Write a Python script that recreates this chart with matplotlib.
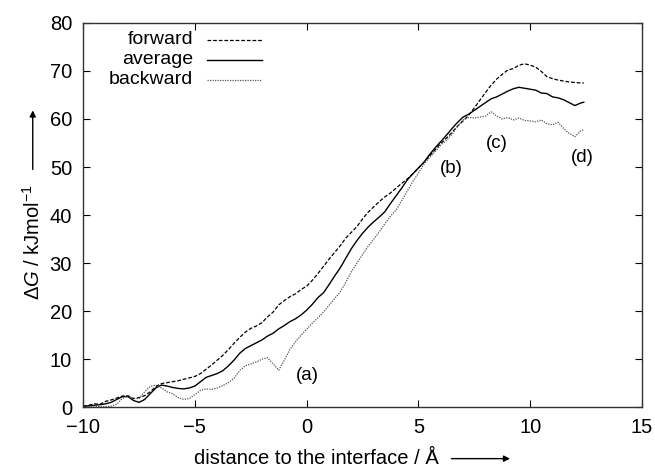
import matplotlib
matplotlib.use("Agg")
import matplotlib.pyplot as plt
from matplotlib.lines import Line2D
from matplotlib.patches import FancyArrowPatch

plt.rcParams["font.family"] = ["Liberation Sans", "DejaVu Sans"]
plt.rcParams["font.size"] = 14.5
plt.rcParams["mathtext.fontset"] = "custom"
plt.rcParams["mathtext.rm"] = "Liberation Sans"
plt.rcParams["mathtext.it"] = "Liberation Sans:italic"

# distance to the interface (Angstrom)
distance = [
    -10.0, -9.75, -9.5, -9.25, -9.0, -8.75, -8.5, -8.25, -8.0, -7.75,
    -7.5, -7.25, -7.0, -6.75, -6.5, -6.25, -6.0, -5.75, -5.5, -5.25,
    -5.0, -4.75, -4.5, -4.25, -4.0, -3.75, -3.5, -3.25, -3.0, -2.75,
    -2.5, -2.25, -2.0, -1.75, -1.5, -1.25, -1.0, -0.75, -0.5, -0.25,
    0.0, 0.25, 0.5, 0.75, 1.0, 1.25, 1.5, 1.75, 2.0, 2.25,
    2.5, 2.75, 3.0, 3.25, 3.5, 3.75, 4.0, 4.25, 4.5, 4.75,
    5.0, 5.25, 5.5, 5.75, 6.0, 6.25, 6.5, 6.75, 7.0, 7.25,
    7.5, 7.75, 8.0, 8.25, 8.5, 8.75, 9.0, 9.25, 9.5, 9.75,
    10.0, 10.25, 10.5, 10.75, 11.0, 11.25, 11.5, 11.75, 12.0, 12.25,
    12.4,
]

forward = [
    0.2, 0.4, 0.7, 0.6, 1.2, 1.5, 1.9, 2.3, 2.4, 1.8,
    2.0, 2.4, 3.2, 4.3, 4.9, 5.1, 5.3, 5.5, 5.8, 6.1,
    6.4, 7.0, 7.9, 8.8, 9.8, 10.8, 12.0, 13.3, 14.5, 15.6,
    16.4, 16.9, 17.6, 18.8, 19.8, 21.3, 22.2, 23.0, 23.6, 24.5,
    25.2, 26.4, 27.8, 29.3, 30.8, 32.2, 33.6, 35.2, 36.4, 37.6,
    39.2, 40.6, 41.7, 42.8, 43.8, 44.6, 45.6, 46.6, 47.5, 48.6,
    49.8, 51.0, 52.3, 53.6, 54.9, 56.0, 57.2, 58.5, 59.6, 60.8,
    62.3, 63.9, 65.5, 67.0, 68.3, 69.3, 70.2, 70.5, 71.2, 71.5,
    71.2, 70.8, 69.9, 68.8, 68.4, 68.1, 67.9, 67.7, 67.6, 67.5,
    67.5,
]

average = [
    0.1, 0.3, 0.4, 0.5, 0.7, 1.0, 1.6, 2.2, 2.2, 1.4,
    1.0, 1.6, 2.8, 4.0, 4.6, 4.4, 4.1, 3.9, 3.8, 4.0,
    4.4, 5.3, 6.2, 6.6, 7.0, 7.6, 8.6, 9.8, 11.2, 12.2,
    12.8, 13.4, 14.0, 14.8, 15.4, 16.3, 17.0, 17.8, 18.4, 19.2,
    20.2, 21.4, 22.8, 23.8, 25.5, 27.3, 29.0, 31.0, 33.0, 34.7,
    36.2, 37.5, 38.6, 39.6, 40.7, 42.4, 44.0, 45.6, 47.3, 48.6,
    49.8, 51.0, 52.6, 54.0, 55.3, 56.6, 58.0, 59.3, 60.4, 61.0,
    61.8, 62.6, 63.4, 64.2, 64.6, 65.2, 65.8, 66.3, 66.6, 66.4,
    66.2, 66.0, 65.4, 65.3, 64.6, 64.4, 64.0, 63.4, 62.8, 63.3,
    63.5,
]

backward = [
    0.0, 0.1, 0.2, 0.1, 0.1, 0.2, 0.6, 1.8, 2.4, 1.8,
    1.8, 3.2, 4.3, 4.6, 4.0, 3.2, 2.8, 2.0, 1.6, 1.8,
    2.6, 3.5, 3.8, 3.7, 4.0, 4.5, 5.1, 6.0, 7.6, 8.6,
    9.0, 9.4, 10.0, 10.3, 9.0, 7.7, 9.8, 12.0, 13.6, 15.0,
    16.2, 17.5, 18.6, 19.8, 21.2, 22.6, 24.0, 26.0, 28.2, 30.0,
    31.8, 33.5, 35.0, 36.5, 38.2, 39.8, 41.0, 43.0, 45.0, 47.0,
    48.7, 50.6, 52.0, 53.2, 54.6, 55.5, 56.8, 58.5, 59.8, 60.3,
    60.2, 60.4, 60.6, 61.5, 60.6, 60.0, 60.3, 59.8, 60.2, 59.7,
    59.6, 59.4, 59.8, 59.0, 58.8, 59.3, 58.0, 57.0, 56.3, 57.5,
    57.8,
]

series = [
    ("forward", forward, dict(color="black", linestyle=(0, (3, 1.5)), linewidth=0.9)),
    ("average", average, dict(color="black", linestyle="-", linewidth=1.0)),
    ("backward", backward, dict(color="#555555", linestyle=(0, (1, 1)), linewidth=0.9)),
]

labels = [("(a)", 0.05, 6.6), ("(b)", 6.45, 49.7), ("(c)", 8.5, 55.0), ("(d)", 12.35, 52.0)]

fig = plt.figure(figsize=(6.55, 4.68), dpi=100)
ax = fig.add_axes([0.127, 0.130, 0.853, 0.821])

for name, vals, style in series:
    ax.plot(distance, vals, **style)

for txt, lx, ly in labels:
    ax.text(lx, ly, txt, ha="center", va="center", fontsize=13.5)

# gnuplot-like key: right-aligned labels, line samples on the right
rows = [0.956, 0.904, 0.852]
for (name, vals, style), ry in zip(series, rows):
    ax.text(0.197, ry, name, transform=ax.transAxes, ha="right", va="center", fontsize=14)
    ax.add_line(Line2D([0.222, 0.320], [ry, ry], transform=ax.transAxes, **style))

ax.set_xlim(-10, 15)
ax.set_ylim(0, 80)
ax.set_xticks([-10, -5, 0, 5, 10, 15])
ax.set_yticks([0, 10, 20, 30, 40, 50, 60, 70, 80])
ax.set_xticklabels(["\u221210", "\u22125", "0", "5", "10", "15"])
ax.tick_params(direction="in", top=True, right=True, length=5, width=0.8, labelsize=14.5, pad=8)
for sp in ax.spines.values():
    sp.set_linewidth(1.0)
    sp.set_color("#333333")

# axis labels with arrows
fig.text(0.483, 0.020, "distance to the interface / \u00c5", ha="center", va="center", fontsize=14.5)
fig.add_artist(FancyArrowPatch(
    (0.685, 0.020), (0.783, 0.020), transform=fig.transFigure,
    arrowstyle="-|>", mutation_scale=9, linewidth=1.0, color="black"))

fig.text(0.050, 0.483, r"$\Delta G$ / kJmol$^{-1}$", rotation=90, ha="center", va="center",
         fontsize=14.5)
fig.add_artist(FancyArrowPatch(
    (0.050, 0.632), (0.050, 0.770), transform=fig.transFigure,
    arrowstyle="-|>", mutation_scale=9, linewidth=1.0, color="black"))

fig.savefig("out.png", dpi=100)
